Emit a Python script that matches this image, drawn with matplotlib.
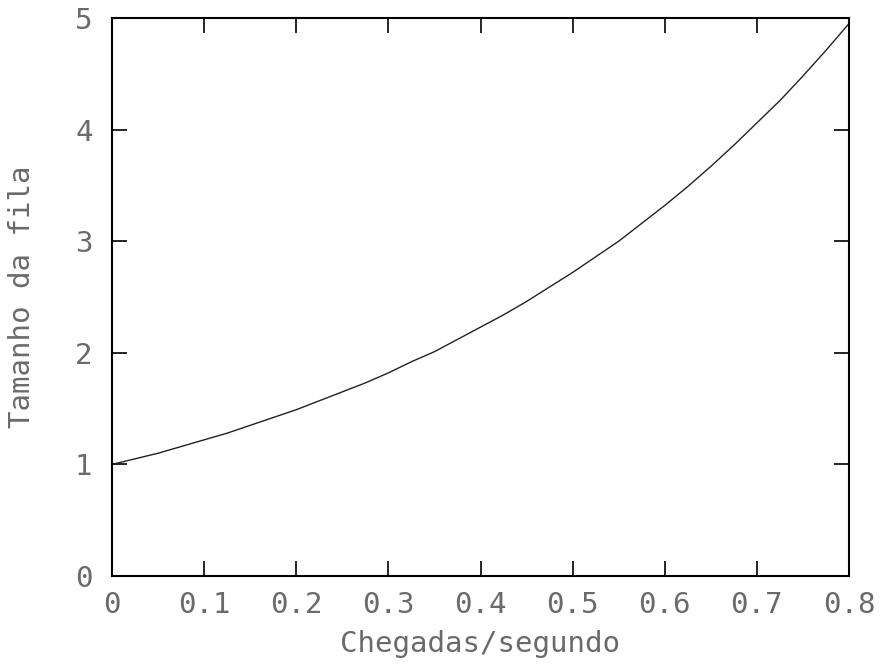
import matplotlib
matplotlib.use('Agg')
import matplotlib.pyplot as plt

# chegadas por segundo vs tamanho medio da fila
chegadas = [0.0, 0.025, 0.05, 0.075, 0.1, 0.125, 0.15, 0.175, 0.2, 0.225,
            0.25, 0.275, 0.3, 0.325, 0.35, 0.375, 0.4, 0.425, 0.45, 0.475,
            0.5, 0.525, 0.55, 0.575, 0.6, 0.625, 0.65, 0.675, 0.7, 0.725,
            0.75, 0.775, 0.8]
fila = [1.00, 1.05, 1.10, 1.16, 1.22, 1.28, 1.35, 1.42, 1.49, 1.57,
        1.65, 1.73, 1.82, 1.92, 2.01, 2.12, 2.23, 2.34, 2.46, 2.59,
        2.72, 2.86, 3.00, 3.16, 3.32, 3.49, 3.67, 3.86, 4.06, 4.26,
        4.48, 4.71, 4.95]

xticks = [0, 0.1, 0.2, 0.3, 0.4, 0.5, 0.6, 0.7, 0.8]
xlabels = ['0', '0.1', '0.2', '0.3', '0.4', '0.5', '0.6', '0.7', '0.8']
yticks = [0, 1, 2, 3, 4, 5]

plt.rcParams['font.family'] = ['DejaVu Sans Mono']
txt = '#6a6a6a'

fig = plt.figure(figsize=(8.87, 6.71), dpi=100)
ax = fig.add_axes([112 / 887, 1 - 576 / 671, (849 - 112) / 887, (576 - 18) / 671])

ax.plot(chegadas, fila, color='#222222', linewidth=1.0)

ax.set_xlim(0, 0.8)
ax.set_ylim(0, 5)
ax.set_xticks(xticks)
ax.set_xticklabels(xlabels)
ax.set_yticks(yticks)
ax.tick_params(direction='in', length=11, width=1.2, top=True, right=True,
               labelsize=21, colors=txt)
ax.tick_params(axis='x', pad=11, color='black')
ax.tick_params(axis='y', pad=14, color='black')
for s in ax.spines.values():
    s.set_linewidth(1.5)
    s.set_color('black')

ax.set_xlabel('Chegadas/segundo', fontsize=21, labelpad=8, color=txt)
ax.set_ylabel('Tamanho da fila', fontsize=21, labelpad=28, color=txt)

fig.savefig('out.png', dpi=100)
